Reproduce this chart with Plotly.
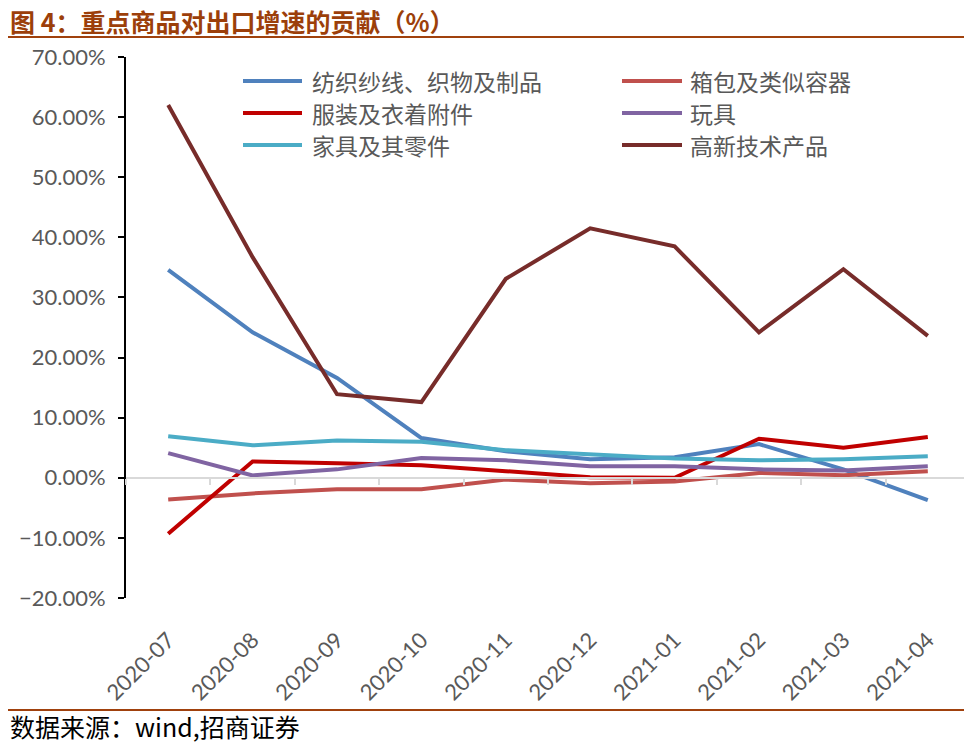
import plotly.graph_objects as go

categories = ["2020-07", "2020-08", "2020-09", "2020-10", "2020-11", "2020-12",
              "2021-01", "2021-02", "2021-03", "2021-04"]
textile = [34.6, 24.2, 16.6, 6.6, 4.4, 3.1, 3.4, 5.6, 1.4, -3.7]
bags = [-3.6, -2.6, -1.9, -1.9, -0.3, -0.9, -0.6, 0.8, 0.4, 1.1]
apparel = [-9.3, 2.7, 2.4, 2.1, 1.1, 0.1, 0.0, 6.5, 5.0, 6.8]
toys = [4.1, 0.4, 1.4, 3.3, 2.9, 1.9, 1.9, 1.4, 1.2, 1.9]
furniture = [6.9, 5.4, 6.2, 6.0, 4.6, 3.9, 3.2, 2.9, 3.1, 3.6]
hightech = [62.0, 36.7, 13.9, 12.6, 33.1, 41.5, 38.5, 24.2, 34.7, 23.6]

series = [
    ("纺织纱线、织物及制品", textile, "#4F81BD"),
    ("箱包及类似容器", bags, "#C0504D"),
    ("服装及衣着附件", apparel, "#C00000"),
    ("玩具", toys, "#8064A2"),
    ("家具及其零件", furniture, "#4BACC6"),
    ("高新技术产品", hightech, "#772C2A"),
]

fig = go.Figure()
for name, vals, color in series:
    fig.add_trace(go.Scatter(x=categories, y=vals, name=name, mode="lines",
                             line=dict(color=color, width=4), showlegend=False))

# invisible helper trace to create the zero-crossing category axis
fig.add_trace(go.Scatter(x=categories, y=textile, xaxis="x2", mode="lines",
                         line=dict(width=0), opacity=0, showlegend=False,
                         hoverinfo="skip"))

tick_font = dict(family="Lato, Carlito, sans-serif", size=22, color="#595959")

# page has an 8px body margin, so work in page pixels offset by OFF
OFF = 8
W, H = 972 - OFF, 747 - OFF
L, T, R, B = 126, 57, 970, 598  # plot area in page pixels
fig.update_layout(
    width=W, height=H,
    margin=dict(l=L - OFF, r=W - (R - OFF), t=T - OFF, b=H - (B - OFF), autoexpand=False),
    plot_bgcolor="white", paper_bgcolor="white",
    showlegend=False,
    xaxis=dict(type="category", range=[-0.5, 9.5], showline=False, showgrid=False,
               zeroline=False, ticks="", tickangle=-45, tickfont=tick_font,
               ticklabelstandoff=24, automargin=False),
    xaxis2=dict(type="category", range=[-0.5, 9.5], overlaying="x", anchor="free",
                position=2/9, side="bottom", showline=True, linecolor="#D9D9D9",
                linewidth=2, ticks="outside", ticklen=6, tickcolor="#D9D9D9",
                tickwidth=2, tickson="boundaries", showticklabels=False,
                showgrid=False, automargin=False),
    yaxis=dict(range=[-20, 70], dtick=10, tickformat=".2f", ticksuffix="%",
               showgrid=False, zeroline=False, showline=True, linecolor="black",
               linewidth=2, ticks="outside", ticklen=6, tickcolor="black",
               tickwidth=2, tickfont=tick_font, ticklabelstandoff=8, automargin=False),
)

PW, PH = float(R - L), float(B - T)
def px(x):
    return (x - L) / PW
def py(y):
    return (B - y) / PH

# manual two-column legend
rows = [81, 113, 145]
cols = [(243, 302, 310), (622, 682, 688)]
for i, (name, vals, color) in enumerate(series):
    r, c = divmod(i, 2)
    x0, x1, xt = cols[c]
    y = rows[r]
    fig.add_shape(type="line", xref="paper", yref="paper", x0=px(x0), x1=px(x1),
                  y0=py(y), y1=py(y), line=dict(color=color, width=4))
    fig.add_annotation(text=name, xref="paper", yref="paper", x=px(xt), y=py(y),
                       xanchor="left", yanchor="middle", showarrow=False,
                       font=dict(family="Noto Sans CJK SC", size=23, color="#595959"))

fig.add_annotation(text="<b>图 4：重点商品对出口增速的贡献（%）</b>", xref="paper", yref="paper",
                   x=px(9), y=py(21), xanchor="left", yanchor="middle", showarrow=False,
                   borderpad=0,
                   font=dict(family="Noto Sans CJK SC", size=25, color="#9C3F0A"))
fig.add_annotation(text="数据来源：wind,招商证券", xref="paper", yref="paper",
                   x=px(9), y=py(726), xanchor="left", yanchor="middle", showarrow=False,
                   borderpad=0,
                   font=dict(family="Noto Sans CJK SC", size=25, color="black"))
fig.add_shape(type="line", xref="paper", yref="paper", x0=px(0), x1=px(972),
              y0=py(37), y1=py(37), line=dict(color="#A0410D", width=2))
fig.add_shape(type="line", xref="paper", yref="paper", x0=px(0), x1=px(972),
              y0=py(710), y1=py(710), line=dict(color="#A0410D", width=2))

fig.write_html("out.html")
